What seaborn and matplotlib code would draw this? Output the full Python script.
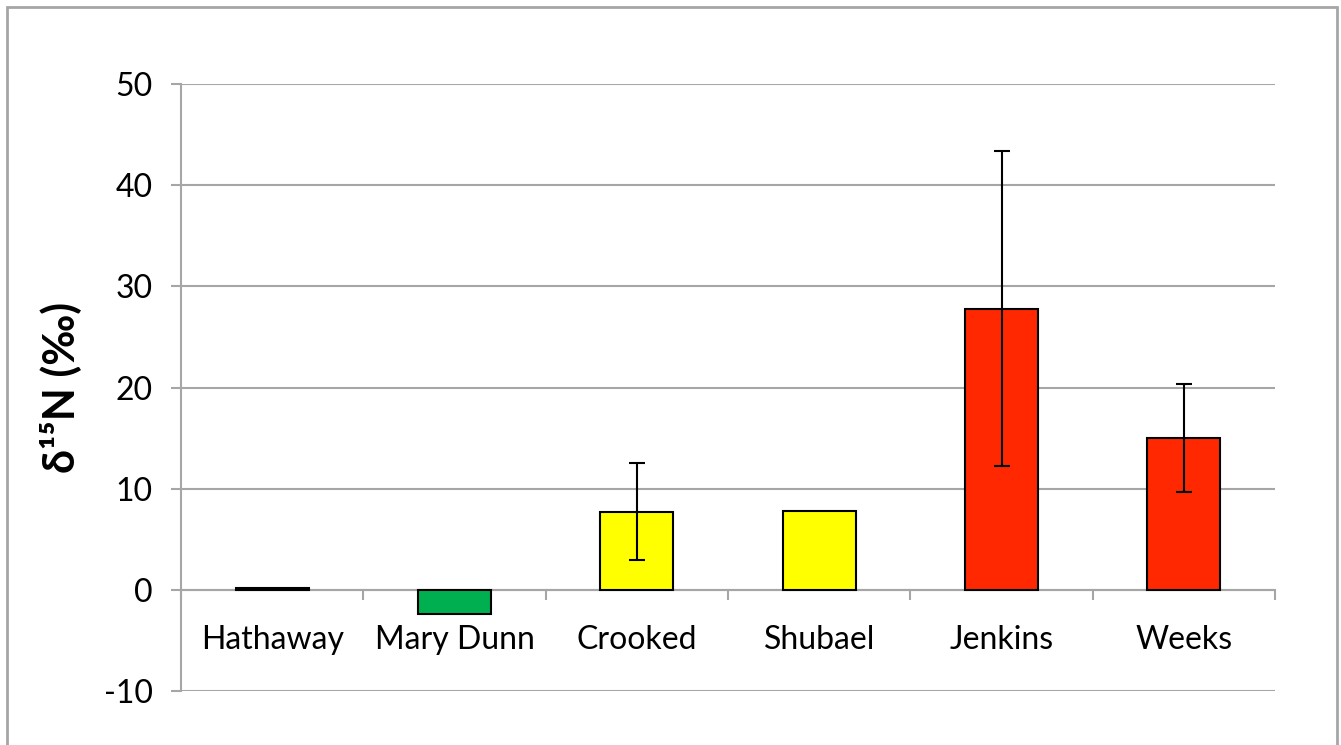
import matplotlib
matplotlib.use("Agg")
import matplotlib.pyplot as plt
from matplotlib.patches import Rectangle
from matplotlib.ticker import FixedLocator
import numpy as np
import pandas as pd
import seaborn as sns

# Mean delta-15N per pond and its error (nan = no error bar)
sites = ["Hathaway", "Mary Dunn", "Crooked", "Shubael", "Jenkins", "Weeks"]
d15n = [0.2, -2.4, 7.7, 7.8, 27.8, 15.0]
d15n_err = [np.nan, np.nan, 4.8, np.nan, 15.6, 5.3]
bar_colors = ["#4F81BD", "#00B050", "#FFFF00", "#FFFF00", "#FF2800", "#FF2800"]
y_ticks = [-10, 0, 10, 20, 30, 40, 50]

sns.set_style("white")
plt.rcParams["font.family"] = ["Lato", "DejaVu Sans"]
plt.rcParams["axes.unicode_minus"] = False
plt.rcParams["text.color"] = "black"
plt.rcParams["axes.labelcolor"] = "black"
plt.rcParams["xtick.labelcolor"] = "black"
plt.rcParams["ytick.labelcolor"] = "black"

df = pd.DataFrame({"site": sites, "d15n": d15n})

fig = plt.figure(figsize=(13.41, 7.45), dpi=100)
ax = fig.add_axes([0.135, 0.0725, 0.8158, 0.8147])

grid_c = "#A6A6A6"
sns.barplot(data=df, x="site", y="d15n", hue="site", palette=bar_colors,
            saturation=1, legend=False, width=0.4, edgecolor="black",
            linewidth=1.5, ax=ax, zorder=3)
ax.errorbar(np.arange(len(sites)), d15n, yerr=d15n_err, fmt="none",
            ecolor="black", elinewidth=1.5, capsize=6, capthick=1.5, zorder=4)

ax.set_xlim(-0.5, len(sites) - 0.5)
ax.set_ylim(-10, 50)
ax.set_yticks(y_ticks)
ax.yaxis.grid(True, color=grid_c, linewidth=1.5, zorder=0)
ax.set_axisbelow(True)

for s in ["top", "right"]:
    ax.spines[s].set_visible(False)
ax.spines["left"].set_color(grid_c)
ax.spines["left"].set_linewidth(1.5)
ax.spines["bottom"].set_position(("data", 0))
ax.spines["bottom"].set_color(grid_c)
ax.spines["bottom"].set_linewidth(1.5)
ax.spines["bottom"].set_zorder(2)

ax.tick_params(axis="y", which="major", direction="out", length=7.5,
               width=1.5, color=grid_c, labelsize=23, pad=13, left=True,
               labelcolor="black")
ax.tick_params(axis="x", which="major", length=0, labelsize=23, pad=25,
               labelcolor="black")
ax.xaxis.set_minor_locator(FixedLocator(np.arange(len(sites) + 1) - 0.5))
ax.tick_params(axis="x", which="minor", direction="out", length=7.5,
               width=1.5, color=grid_c, bottom=True)

ax.set_xlabel("")
ax.set_ylabel("δ¹⁵N (‰)", fontsize=31, fontweight="bold", labelpad=16,
              color="black")

# Outer chart frame
fig.patches.append(Rectangle((7 / 1341, -0.05), 1330 / 1341, 1.05 - 7 / 745,
                             transform=fig.transFigure, fill=False,
                             edgecolor=grid_c, linewidth=2))

fig.savefig("out.png", dpi=100)
